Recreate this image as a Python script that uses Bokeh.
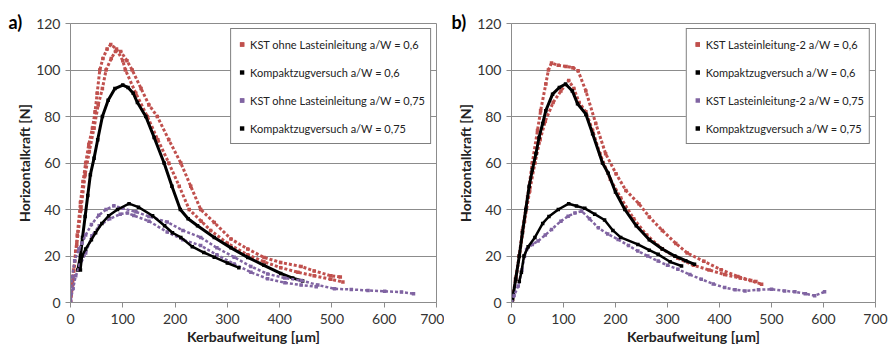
from bokeh.plotting import figure
from bokeh.models import Range1d, Legend, LegendItem, Title, FixedTicker
from bokeh.layouts import row
from bokeh.embed import file_html
from bokeh.resources import INLINE

# ---------------- data ----------------
x_ticks = [0, 100, 200, 300, 400, 500, 600, 700]
y_ticks = [0, 20, 40, 60, 80, 100, 120]

# Panel a
a_red1_x = [0, 3, 6, 10, 13, 19, 24, 29, 35, 42, 47, 51, 56, 62, 70, 77, 88, 100, 105, 125, 147, 167, 188, 208, 227, 250, 268, 300, 339, 370, 402, 435, 466, 498, 521]
a_red1_y = [0, 8, 14, 22, 29, 43, 52, 60, 68, 75, 82, 90, 100, 105, 109, 111, 109, 104, 100, 90, 80, 70, 60, 50, 40, 35, 31, 25.5, 20.5, 17.5, 15, 13, 11.5, 10, 8.8]
a_red2_x = [0, 5, 12, 20, 28, 36, 45, 53, 61, 68, 78, 86, 96, 108, 118, 135, 150, 166, 188, 211, 230, 249, 275, 307, 339, 370, 402, 441, 466, 498, 516]
a_red2_y = [0, 10, 25, 40, 55, 65, 75, 85, 92, 100, 105, 108, 108, 104, 100, 92, 85, 80, 70, 60, 50, 40, 34.4, 27.3, 23, 19.4, 17.2, 15.5, 13.6, 11.5, 11]
a_blk6_x = [14, 19, 23, 28, 33, 38, 45, 52, 61, 72, 85, 100, 110, 120, 128, 144, 160, 179, 194, 210, 225, 243, 275, 307, 339, 370, 402, 425, 444]
a_blk6_y = [14, 20, 28, 37, 46, 55, 62, 70, 80, 87, 92, 93.5, 92.5, 90, 86, 80, 71, 60, 50, 40, 36, 33, 28, 23.5, 19.4, 16, 12.5, 10.5, 9.3]
a_pur1_x = [0, 3, 8, 16, 22, 29, 40, 54, 68, 83, 100, 125, 150, 185, 215, 249, 280, 313, 345, 377, 410, 441, 473, 505, 537, 569, 601, 633, 656]
a_pur1_y = [0, 11, 18, 23, 25.5, 29, 33.5, 37.5, 40, 41.6, 40.5, 39, 37, 34.6, 31, 28, 23.5, 19.5, 15.5, 12.3, 10.5, 9.5, 7.5, 5.9, 5.6, 5.2, 4.8, 4.5, 3.8]
a_pur2_x = [0, 5, 10, 18, 29, 41, 55, 75, 95, 109, 121, 150, 185, 215, 249, 280, 313, 345, 377, 410, 441, 470]
a_pur2_y = [1, 6, 11.5, 16, 21.3, 28.7, 33, 36, 38, 38.5, 37.4, 35, 30.3, 27, 24.5, 20.5, 16.6, 13, 10.2, 8.5, 7.5, 6.8]
a_blk75_x = [19, 22, 29, 40, 48, 60, 73, 90, 112, 130, 157, 180, 195, 211, 233, 255, 275, 300, 322]
a_blk75_y = [14, 20, 23, 27, 30, 34, 37.3, 40, 42.5, 41, 37.3, 33, 30, 28, 24, 21.5, 19.5, 17, 15]

# Panel b
b_red1_x = [0, 2, 8, 15, 21, 31, 40, 50, 56, 66, 71, 77, 90, 105, 118, 128, 143, 162, 181, 201, 220, 245, 265, 290, 316, 338, 370, 403, 435, 460, 481]
b_red1_y = [0, 1.3, 10, 20, 31, 45.5, 60, 74, 82.5, 94, 100, 103, 102, 101.5, 101, 99.7, 91, 77, 64, 55.4, 48.2, 42.5, 36.8, 31, 25.4, 21.3, 17.7, 14.1, 11.2, 9.5, 7.8]
b_red2_x = [0, 8, 15, 25, 35, 45, 55, 65, 80, 95, 110, 120, 130, 143, 156, 170, 190, 210, 235, 260, 290, 320, 350, 380, 410, 440, 470]
b_red2_y = [0, 10, 20, 35, 48, 60, 70, 78, 86, 91, 95.5, 92, 86, 82, 74, 64, 53, 45, 36, 29, 23, 19, 16, 14, 12, 10.5, 9]
b_blk6_x = [0, 2, 8, 15, 21, 27.5, 34, 40, 47, 53, 60, 66, 79, 92, 104, 117, 127, 143, 156, 175, 186, 200, 218, 240, 265, 290, 314, 335, 352]
b_blk6_y = [0, 1.3, 10, 20, 30, 40, 50, 57, 64, 71, 77, 82.5, 89.6, 92.5, 94, 91, 85.5, 81, 72.6, 60, 55.6, 47.5, 40, 33, 27, 23, 20, 18, 16.4]
b_pur_x = [0, 5, 13, 20, 25, 29, 40, 51, 65, 77, 95, 109, 122, 135, 150, 167, 185, 205, 225, 243, 262, 282, 300, 320, 343, 365, 388, 410, 430, 449, 475, 500, 525, 545, 565, 583, 602]
b_pur_y = [0, 3, 7.1, 14, 20, 22.8, 25, 26.4, 29, 31.4, 35, 37.1, 38.5, 39.3, 36, 32.1, 29.5, 27.1, 24.5, 22.1, 20, 17.8, 16, 14.3, 12, 10, 8, 6.4, 5.5, 5, 5.5, 5.7, 5, 4.6, 3.8, 2.9, 4.6]
b_blk75_x = [15, 19, 24, 32, 45, 60, 72, 90, 110, 125, 141, 160, 179, 195, 210, 243, 265, 282, 305, 327]
b_blk75_y = [9, 13, 20, 24, 28, 34, 37, 40, 42.5, 41.5, 40.5, 38, 35.5, 31, 28, 25, 22.5, 20.7, 17.5, 15.7]

a_labels = ["KST ohne Lasteinleitung a/W = 0,6", "Kompaktzugversuch a/W = 0,6",
            "KST ohne Lasteinleitung a/W = 0,75", "Kompaktzugversuch a/W = 0,75"]
b_labels = ["KST Lasteinleitung-2 a/W = 0,6", "Kompaktzugversuch a/W = 0,6",
            "KST Lasteinleitung-2 a/W = 0,75", "Kompaktzugversuch a/W = 0,75"]

RED = "#C0504D"
PUR = "#8064A2"
BLK = "#000000"
GRID = "#8c8c8c"
FONT = "Lato"


def make_panel(tag, tag_dx, series, labels, width, borders):
    left, right, top, bottom = borders
    p = figure(width=width, height=347, output_backend="svg", toolbar_location=None,
               x_range=Range1d(0, 700), y_range=Range1d(0, 120),
               min_border_left=left, min_border_right=right,
               min_border_top=top, min_border_bottom=bottom)
    p.background_fill_color = "white"
    p.border_fill_color = "white"
    p.outline_line_color = GRID
    p.outline_line_width = 1
    p.xgrid.visible = False
    p.ygrid.grid_line_color = GRID
    p.ygrid.grid_line_width = 1
    p.xaxis.ticker = FixedTicker(ticks=x_ticks)
    p.yaxis.ticker = FixedTicker(ticks=y_ticks)
    for ax in (p.xaxis[0], p.yaxis[0]):
        ax.axis_line_color = GRID
        ax.major_tick_line_color = GRID
        ax.major_tick_out = 5
        ax.major_tick_in = 0
        ax.minor_tick_line_color = None
        ax.major_label_text_font = FONT
        ax.major_label_text_font_size = "14px"
        ax.major_label_text_color = "#333333"
        ax.axis_label_text_font = FONT
        ax.axis_label_text_font_size = "14px"
        ax.axis_label_text_font_style = "bold"
        ax.axis_label_text_color = "#222222"
    p.xaxis.major_label_standoff = 6
    p.yaxis.major_label_standoff = 5
    p.xaxis.axis_label = "Kerbaufweitung [µm]"
    p.yaxis.axis_label = "Horizontalkraft [N]"
    p.xaxis.axis_label_standoff = 1
    p.yaxis.axis_label_standoff = 0

    items = []
    for (traces, color, dash, lw), lab in zip(series, labels):
        rends = []
        for xs, ys in traces:
            p.line(xs, ys, line_color=color, line_width=lw, line_dash=dash)
            r = p.scatter(xs, ys, marker="square", size=3.5, fill_color=color, line_color=None)
            rends.append(r)
        items.append(LegendItem(label=lab, renderers=rends))

    leg = Legend(items=items, location="top_right", margin=5, padding=5,
                 border_line_color="black", border_line_width=1,
                 background_fill_color="white", background_fill_alpha=1,
                 label_text_font=FONT, label_text_font_size="11px",
                 label_text_color="#222222",
                 glyph_width=11, glyph_height=20, label_height=20,
                 label_standoff=3, spacing=8)
    p.add_layout(leg)

    ttl = Title(text=tag, align="left", offset=tag_dx, standoff=-18,
                vertical_align="bottom", text_font=FONT, text_font_size="18px",
                text_font_style="bold", text_color="black")
    p.add_layout(ttl, "above")
    return p


series_a = [
    ([(a_red1_x, a_red1_y), (a_red2_x, a_red2_y)], RED, "3 2", 3),
    ([(a_blk6_x, a_blk6_y)], BLK, "solid", 3),
    ([(a_pur1_x, a_pur1_y), (a_pur2_x, a_pur2_y)], PUR, "3 2", 2.5),
    ([(a_blk75_x, a_blk75_y)], BLK, "solid", 2.5),
]
series_b = [
    ([(b_red1_x, b_red1_y), (b_red2_x, b_red2_y)], RED, "3 2", 3),
    ([(b_blk6_x, b_blk6_y)], BLK, "solid", 3),
    ([(b_pur_x, b_pur_y)], PUR, "3 2", 2.5),
    ([(b_blk75_x, b_blk75_y)], BLK, "solid", 2.5),
]

pa = make_panel("a)", -62, series_a, a_labels, 444, (70, 8, 23, 45))
pb = make_panel("b)", -60, series_b, b_labels, 444, (67, 13, 23, 44))

layout = row(pa, pb, spacing=0)
open("out.html", "w").write(file_html(layout, INLINE))
